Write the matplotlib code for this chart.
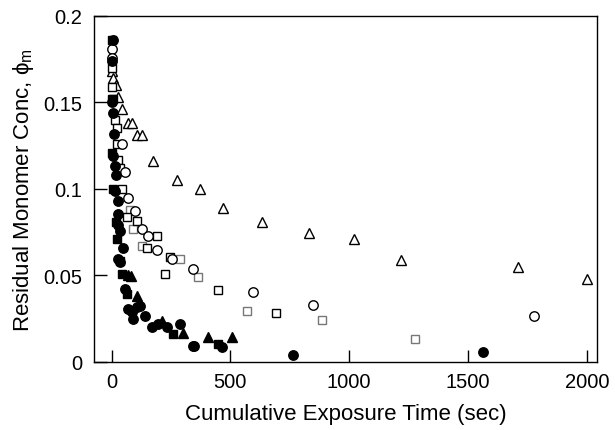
import numpy as np
import matplotlib
matplotlib.use('Agg')
import matplotlib.pyplot as plt

plt.rcParams['font.family'] = ['Liberation Sans', 'DejaVu Sans']
plt.rcParams['mathtext.fontset'] = 'custom'
plt.rcParams['mathtext.rm'] = 'Liberation Sans'
plt.rcParams['mathtext.it'] = 'Liberation Sans:italic'

# open triangles
tri_open_t = [1, 8, 18, 29, 45, 70, 85, 106, 127, 176, 274, 373, 471, 632, 829, 1022, 1219, 1710, 2001]
tri_open_c = [0.168, 0.164, 0.160, 0.153, 0.146, 0.138, 0.138, 0.131, 0.131, 0.116, 0.105, 0.100,
              0.0888, 0.081, 0.0746, 0.071, 0.059, 0.055, 0.048]

# open circles
circ_open_t = [1, 3, 43, 57, 71, 99, 127, 155, 190, 253, 344, 597, 847, 1776]
circ_open_c = [0.181, 0.176, 0.126, 0.110, 0.095, 0.0875, 0.077, 0.073, 0.065, 0.0595, 0.0538,
               0.0406, 0.0331, 0.0268]

# open squares (black)
sq_open_t = [1, 1, 3, 8, 15, 22, 22, 29, 36, 43, 64, 106, 190, 148, 225, 246, 450, 691]
sq_open_c = [0.186, 0.170, 0.159, 0.152, 0.140, 0.135, 0.126, 0.117, 0.112, 0.100, 0.0836,
             0.0817, 0.073, 0.066, 0.051, 0.0605, 0.0418, 0.0283]

# open squares (grey)
sq_grey_t = [78, 92, 127, 288, 365, 569, 885, 1275]
sq_grey_c = [0.088, 0.077, 0.067, 0.0595, 0.049, 0.0297, 0.0245, 0.0133]

# filled circles
circ_fill_t = [8, 1, 0, 8, 11, 8, 15, 17, 15, 26, 26, 26, 36, 50, 29, 36, 57, 71, 85, 106, 120,
               141, 92, 169, 197, 232, 288, 344, 349, 464, 763, 1563]
circ_fill_c = [0.186, 0.174, 0.150, 0.144, 0.132, 0.119, 0.113, 0.108, 0.099, 0.093, 0.0856,
               0.079, 0.076, 0.066, 0.0595, 0.0576, 0.042, 0.0306, 0.0287, 0.0316, 0.0325,
               0.0268, 0.0249, 0.020, 0.022, 0.020, 0.022, 0.0094, 0.009, 0.0085, 0.004, 0.0056]

# filled squares
sq_fill_t = [0, 1, 8, 18, 22, 36, 43, 64, 260, 450]
sq_fill_c = [0.152, 0.121, 0.100, 0.081, 0.071, 0.0586, 0.051, 0.0393, 0.0162, 0.0104]

# filled triangles
tri_fill_t = [71, 82, 106, 211, 302, 408, 506]
tri_fill_c = [0.050, 0.0495, 0.0383, 0.0239, 0.0168, 0.0143, 0.0143]

fig = plt.figure(figsize=(6.15, 4.31), dpi=100)
ax = fig.add_axes([0.1528, 0.1578, 0.8179, 0.8028])

ms = 6.8
mew = 1.0
ax.plot(tri_open_t, tri_open_c, '^', ms=ms, mfc='white', mec='black', mew=mew, ls='none')
ax.plot(sq_grey_t, sq_grey_c, 's', ms=ms - 0.5, mfc='white', mec='#777777', mew=mew, ls='none')
ax.plot(sq_open_t, sq_open_c, 's', ms=ms - 0.5, mfc='white', mec='black', mew=mew, ls='none')
ax.plot(circ_open_t, circ_open_c, 'o', ms=ms, mfc='white', mec='black', mew=mew, ls='none')
ax.plot(tri_fill_t, tri_fill_c, '^', ms=ms, mfc='black', mec='black', mew=mew, ls='none')
ax.plot(sq_fill_t, sq_fill_c, 's', ms=ms - 0.5, mfc='black', mec='black', mew=mew, ls='none')
ax.plot(circ_fill_t, circ_fill_c, 'o', ms=ms, mfc='black', mec='black', mew=mew, ls='none')

ax.set_xlim(-74, 2043)
ax.set_ylim(0, 0.2)
ax.set_xticks([0, 500, 1000, 1500, 2000])
ax.set_yticks([0, 0.05, 0.1, 0.15, 0.2])
ax.set_yticklabels(['0', '0.05', '0.1', '0.15', '0.2'])
ax.tick_params(direction='in', length=9, width=1, labelsize=14.5,
               top=False, right=False)
ax.tick_params(axis='x', pad=7)
ax.tick_params(axis='y', pad=8.5)
for s in ax.spines.values():
    s.set_linewidth(1.0)
    s.set_color('black')

ax.set_xlabel('Cumulative Exposure Time (sec)', fontsize=16, labelpad=9)
ax.set_ylabel(r'Residual Monomer Conc, $\mathregular{\phi_m}$', fontsize=16, labelpad=5)

fig.savefig('out.png', dpi=100)
